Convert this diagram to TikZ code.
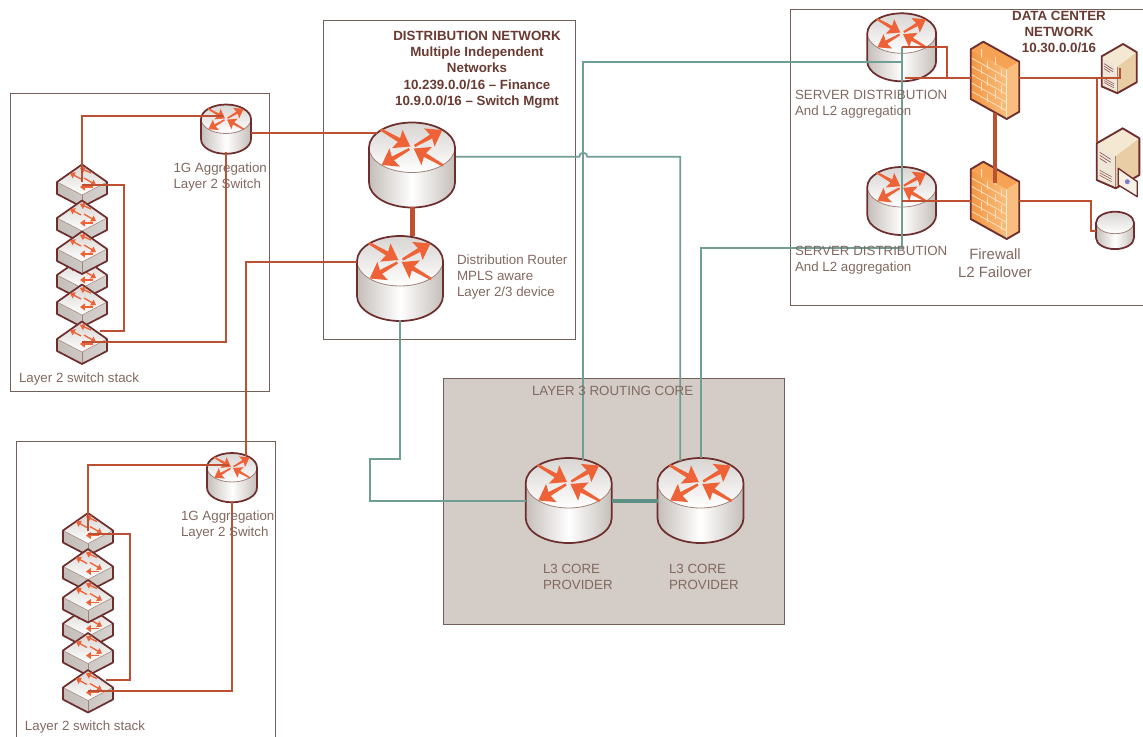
\documentclass[tikz,border=0pt]{standalone}
\usepackage{fontspec}
\setmainfont{Liberation Sans}
\usetikzlibrary{arrows.meta}

\definecolor{rustLine}{RGB}{190,80,50}
\definecolor{tealLine}{RGB}{112,158,148}
\definecolor{tealThick}{RGB}{96,143,133}
\definecolor{iconLine}{RGB}{110,46,46}
\definecolor{iconEdge}{RGB}{160,130,120}
\definecolor{iconGrey}{RGB}{196,190,185}
\definecolor{iconTop}{RGB}{216,213,210}
\definecolor{arrowRed}{RGB}{238,98,56}
\definecolor{boxLine}{RGB}{115,95,90}
\definecolor{coreFill}{RGB}{212,204,199}
\definecolor{labelBrown}{RGB}{130,105,96}
\definecolor{headBrown}{RGB}{105,58,50}
\definecolor{wallDark}{RGB}{243,150,66}
\definecolor{wallLight}{RGB}{248,190,125}
\definecolor{wallLine}{RGB}{252,225,190}
\definecolor{towerTop}{RGB}{245,232,210}
\definecolor{towerSide}{RGB}{232,205,165}
\definecolor{towerFront}{RGB}{240,230,215}

\newcommand{\cylinderbody}{
	\shade [left color=iconGrey,right color=iconGrey,middle color=white] (-43,0) -- (-43,35) arc [start angle=180,end angle=0,x radius=43,y radius=25] -- (43,0) -- cycle;
	\shade [top color=iconTop,bottom color=white,draw=iconEdge,line width=0.6pt] (0,0) ellipse [x radius=43,y radius=25];
	\draw [iconLine,line width=1.3pt] (-43,35) -- (-43,0) arc [start angle=180,end angle=360,x radius=43,y radius=25] -- (43,35) arc [start angle=0,end angle=180,x radius=43,y radius=25];
}

\tikzset{every picture/.style={line width=0.75pt}}
\tikzset{
	every pic/.style={yscale=-1},
	rustlink/.style={draw=rustLine,line width=1.5pt},
	teallink/.style={draw=tealLine,line width=1.3pt},
	rustthick/.style={draw=rustLine,line width=3.6pt},
	tealthick/.style={draw=tealThick,line width=3.4pt},
	areabox/.style={draw=boxLine,line width=0.75pt},
	switcharrow/.style={arrowRed,line width=1pt,-{Triangle[length=3.6pt,width=5pt]}},
	devlabel/.style={anchor=north west,inner sep=0.75pt,align=left,text=labelBrown,font=\fontsize{10}{12}\selectfont},
	headlabel/.style={inner sep=0.75pt,align=center,text=headBrown,font=\fontsize{10}{12.2}\selectfont\bfseries},
	pics/diskicon/.style={code={\cylinderbody}},
	pics/routericon/.style={code={
		\cylinderbody
		\foreach \ang in {-30,150}
			\fill [arrowRed,rotate=\ang] (3,-1.2) -- (22,-2.2) -- (20,-10.5) -- (35,0) -- (20,10.5) -- (22,2.2) -- (3,1.2) -- cycle;
		\foreach \ang in {30,210}
			\fill [arrowRed,rotate=\ang] (36,-1.2) -- (15,-2.2) -- (17,-10.5) -- (2,0) -- (17,10.5) -- (15,2.2) -- (36,1.2) -- cycle;
	}},
	pics/switchicon/.style={code={
		\shade [left color=iconGrey,right color=iconGrey!70!white] (-25,0) -- (0,13) -- (25,0) -- (25,12) -- (0,25) -- (-25,12) -- cycle;
		\shade [top color=iconTop,bottom color=white,draw=iconEdge,line width=0.4pt] (-25,0) -- (0,-17.5) -- (25,0) -- (0,13) -- cycle;
		\draw [iconEdge,line width=0.4pt] (0,13) -- (0,25);
		\draw [iconLine,line width=1.3pt,line join=round] (-25,0) -- (0,-17.5) -- (25,0) -- (25,12) -- (0,25) -- (-25,12) -- cycle;
		\draw [switcharrow] (-1,-3) -- (-12,-9);
		\draw [switcharrow] (9,-9) -- (-2,-14);
		\draw [switcharrow] (2,-4) -- (14,3);
		\draw [switcharrow] (11,5) -- (-2,5);
	}},
	pics/firewallicon/.style={code={
		\shade [left color=wallDark,right color=wallLight] (-24.3,-28.7) -- (11.7,-8.7) -- (11.7,41) -- (-24.3,21) -- cycle;
		\fill [wallDark!70!wallLight] (-24.3,-28.7) -- (-11.7,-36.3) -- (24.3,-16.3) -- (11.7,-8.7) -- cycle;
		\fill [wallLight] (11.7,-8.7) -- (24.3,-16.3) -- (24.3,33.7) -- (11.7,41) -- cycle;
		\foreach \r in {1,...,5}
			\draw [wallLine,line width=0.6pt] (-24.3,-28.7+\r*8.3) -- (11.7,-8.7+\r*8.3);
		\foreach \c/\r in {-14/0,0/0,-8/1,6/1,-14/2,0/2,-8/3,6/3,-14/4,0/4,-8/5,6/5}
			\draw [wallLine,line width=0.6pt] ({\c},{-21+0.555*\c+\r*8.3}) -- ++(0,8.3);
		\draw [iconLine,line width=1.4pt,line join=round] (-24.3,-28.7) -- (-11.7,-36.3) -- (24.3,-16.3) -- (24.3,33.7) -- (11.7,41) -- (-24.3,21) -- cycle;
	}},
	pics/towericon/.style={code={
		\fill [towerFront] (0,15) -- (19,27.7) -- (19,60) -- (0,51.7) -- cycle;
		\fill [towerTop] (0,15) -- (26,0) -- (42.7,10) -- (19,27.7) -- cycle;
		\fill [towerSide] (19,27.7) -- (42.7,10) -- (42.7,46.7) -- (19,60) -- cycle;
		\draw [iconLine!80!white,line width=0.5pt] (3,24) -- (14,31) (3,27) -- (14,34) (3,30) -- (10,34.5);
		\draw [iconLine!80!white,line width=0.4pt] (3,42) -- (15,48.5) (3,44.5) -- (15,51) (3,47) -- (15,53.5);
		\draw [iconEdge,line width=0.4pt] (19,27.7) -- (19,60);
		\draw [iconLine,line width=1.4pt,line join=round] (0,15) -- (26,0) -- (42.7,10) -- (42.7,46.7) -- (19,60) -- (0,51.7) -- cycle;
	}},
}

\begin{document}
\begin{tikzpicture}[x=0.75pt,y=0.75pt,yscale=-1,xscale=1]
	\useasboundingbox (0,0) rectangle (1143,736);

	%Area Boxes
	\draw [areabox,fill=coreFill] (443,378) rectangle (784,624);
	\draw [areabox] (323.5,20.5) rectangle (575,339);
	\draw [areabox] (1143,9.5) -- (790.5,9.5) -- (790.5,305) -- (1143,305);

	%Device Coordinates
	\coordinate (distTop) at (412,147.5);
	\coordinate (distLow) at (400,261);
	\coordinate (coreL) at (568.7,483);
	\coordinate (coreR) at (700.5,483);
	\coordinate (srvUp) at (901.7,33.3);
	\coordinate (srvLow) at (901.7,187);
	\coordinate (fwUp) at (995,78);
	\coordinate (fwLow) at (995,198);
	\coordinate (towerOne) at (1101.7,44);
	\coordinate (towerTwo) at (1096.7,128.3);
	\coordinate (diskOne) at (1115,222.7);
	\coordinate (hopStart) at (579.3,156.7);
	\coordinate (tealBend) at (370,459);
	\coordinate (srvJoin) at (946.7,78.3);
	\coordinate (fwBranch) at (1096.7,78.3);
	\coordinate (diskTurn) at (1090.7,230.7);

	%Routers
	\foreach \dev in {distTop,distLow,coreL,coreR}
		\pic at (\dev) {routericon};
	\foreach \dev in {srvUp,srvLow}
		\pic [scale=0.8] at (\dev) {routericon};

	%Switch Stacks
	\foreach \stk/\dx/\dy/\lx in {A/0/0/172,B/6/348.5/173.5} {
		\begin{scope}[shift={(\dx,\dy)}]
			\draw [areabox] (10,93) rectangle (269,391);
			\coordinate (agg\stk) at (226,119);
			\coordinate (sw\stk1) at (82,182);
			\coordinate (sw\stk2) at (82,218);
			\coordinate (sw\stk3) at (82,249);
			\coordinate (sw\stk4) at (82,275);
			\coordinate (sw\stk5) at (82,302);
			\coordinate (sw\stk6) at (82,339);
			\coordinate (loop\stk) at (123.5,260);
			\pic [scale=0.58] at (agg\stk) {routericon};
			\foreach \i in {1,2,4,3,5,6}
				\pic at (sw\stk\i) {switchicon};
			%Stack Links
			\draw [rustlink] (sw\stk1) |- ([shift={(-3,-3)}]agg\stk) ;
			\draw [rustlink] ([shift={(0,3)}]sw\stk1) -| (loop\stk) |- ([shift={(18,-8)}]sw\stk6) ;
			\draw [rustlink] ([shift={(0,33)}]agg\stk) |- ([shift={(0,3)}]sw\stk6) ;
			% Text Node
			\draw (\lx,161) node [devlabel] (lblAgg\stk) {1G Aggregation\\Layer 2 Switch};
			% Text Node
			\draw (17.5,371) node [devlabel] (lblStack\stk) {Layer 2 switch stack};
		\end{scope}
	}

	%Other Devices
	\pic at (fwUp) {firewallicon};
	\pic at (fwLow) {firewallicon};
	\pic [scale=0.82] at (towerOne) {towericon};
	\pic at (towerTwo) {towericon};
	\pic [scale=0.44] at (diskOne) {diskicon};
	\draw [iconLine,line width=1pt,fill=towerFront!60!white,line join=round] (1118.3,168.3) -- (1137.3,181.7) -- (1137.3,196.7) -- (1118.3,185) -- cycle;
	\fill [blue!45!gray!70!white] (1127.3,181.7) circle [radius=2.5];

	%Teal Links
	\draw [teallink] ([shift={(14.6,-23.5)}]coreL) |- ([shift={(0,29)}]srvUp) ;
	\draw [teallink] ([shift={(44,9.2)}]distTop) -- (hopStart) arc [start angle=180,end angle=360,radius=4] -| ([shift={(-20.2,-22)}]coreR) ;
	\draw [teallink] ([shift={(0,13.7)}]srvUp) -- ([shift={(0,61)}]srvLow) -| ([shift={(0.2,-25)}]coreR) ;
	\draw [teallink] ([shift={(0,59)}]distLow) |- (tealBend) |- ([shift={(-43,18)}]coreL) ;
	\draw [tealthick] ([shift={(43,18)}]coreL) -- ([shift={(-43,18)}]coreR) ;

	%Rust Links
	\draw [rustlink] ([shift={(25,14)}]aggA) -- ([shift={(-35,-14.5)}]distTop) ;
	\draw [rustlink] ([shift={(13.7,-12)}]aggB) |- ([shift={(-43,0.7)}]distLow) ;
	\draw [rustthick] ([shift={(0.7,59.5)}]distTop) -- ([shift={(12.7,-25)}]distLow) ;
	\draw [rustlink] ([shift={(3,45)}]srvUp) -- ([shift={(-24.3,0.3)}]fwUp) ;
	\draw [rustlink] ([shift={(0,13.7)}]srvUp) -| (srvJoin) ;
	\draw [rustlink] ([shift={(0,13.7)}]srvLow) -- ([shift={(-24.3,2.7)}]fwLow) ;
	\draw [rustlink] ([shift={(24.3,0.3)}]fwUp) -| ([shift={(18.6,24)}]towerOne) ;
	\draw [rustlink] (fwBranch) -- ([shift={(0,14)}]towerTwo) ;
	\draw [rustlink] ([shift={(24.3,2.7)}]fwLow) -| (diskTurn) -- ([shift={(-19,8)}]diskOne) ;
	\draw [rustthick] ([shift={(0,35)}]fwUp) -- ([shift={(0,-15)}]fwLow) ;

	% Text Node
	\draw (477,69.5) node [headlabel] (lblDist) {DISTRIBUTION NETWORK\\Multiple Independent\\Networks\\10.239.0.0/16 – Finance\\10.9.0.0/16 – Switch Mgmt};
	% Text Node
	\draw (1059,32) node [headlabel] (lblData) {DATA CENTER\\NETWORK\\10.30.0.0/16};
	% Text Node
	\draw (455.5,253.5) node [devlabel] (lblRouter) {Distribution Router\\MPLS aware\\Layer 2/3 device};
	% Text Node
	\draw (793.5,89) node [devlabel] (lblSrvUp) {SERVER DISTRIBUTION\\And L2 aggregation};
	% Text Node
	\draw (793.5,245) node [devlabel] (lblSrvLow) {SERVER DISTRIBUTION\\And L2 aggregation};
	% Text Node
	\draw (995,263) node [devlabel,anchor=center,align=center,font=\fontsize{11.2}{13.6}\selectfont] (lblWall) {Firewall\\L2 Failover};
	% Text Node
	\draw (530.5,385) node [devlabel] (lblCore) {LAYER 3 ROUTING CORE};
	% Text Node
	\draw (541.5,563) node [devlabel] (lblCoreL) {L3 CORE\\PROVIDER};
	% Text Node
	\draw (667.5,563) node [devlabel] (lblCoreR) {L3 CORE\\PROVIDER};
\end{tikzpicture}
\end{document}
